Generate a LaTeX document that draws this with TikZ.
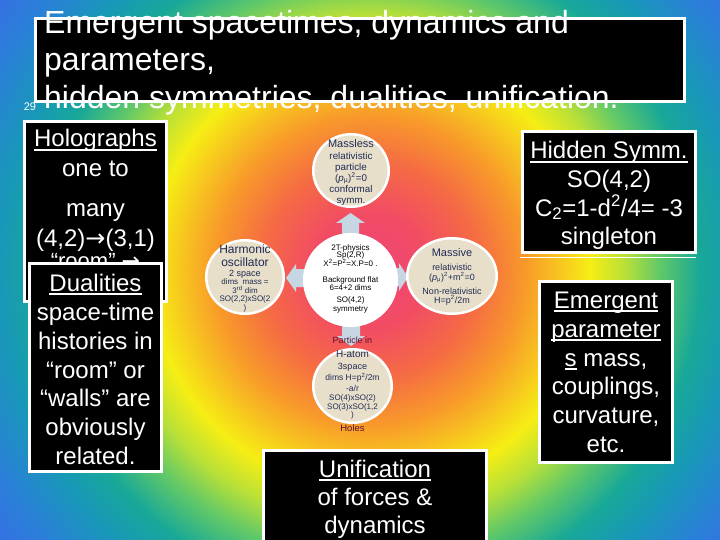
\documentclass[tikz,border=0pt]{standalone}
\usepackage{fontspec}
\setmainfont{Liberation Sans}
\newfontfamily\dejavu{DejaVu Sans}
\usetikzlibrary{shapes.geometric}
\definecolor{beige}{HTML}{E8DFCA}
\definecolor{navy}{HTML}{1E2B55}
\definecolor{maroonx}{HTML}{5A1633}
\definecolor{arrowblue}{HTML}{C6D6E2}
\definecolor{sg0}{HTML}{F04478}
\definecolor{sg1}{HTML}{F24C64}
\definecolor{sg2}{HTML}{F56A44}
\definecolor{sg3}{HTML}{F89A2A}
\definecolor{sg4}{HTML}{F6EE14}
\definecolor{sg5}{HTML}{B8E038}
\definecolor{sg6}{HTML}{60C868}
\definecolor{sg7}{HTML}{18A898}
\definecolor{sg8}{HTML}{1898B8}
\definecolor{sg9}{HTML}{2A80D8}
\definecolor{sg10}{HTML}{3A68E8}
\pgfdeclareradialshading{bgshade}{\pgfpoint{0bp}{0bp}}{%
color(0bp)=(sg0); color(3bp)=(sg1); color(5.6bp)=(sg2); color(8.1bp)=(sg3);
color(11.46bp)=(sg4); color(13.28bp)=(sg5); color(15.1bp)=(sg6); color(17.19bp)=(sg7);
color(19.27bp)=(sg8); color(21.875bp)=(sg9); color(25bp)=(sg10); color(50bp)=(sg10)}
\newcommand\myul[1]{\setbox0\hbox{#1}\rlap{\rule[-4.2pt]{\wd0}{1.8pt}}\box0\relax}
\newcommand\rarr{{\dejavu →}}
\tikzset{
  bbox/.style={draw=white, line width=3pt, fill=black, inner sep=0pt},
  ttext/.style={text=white, font=\fontsize{32}{38}\selectfont, inner sep=0pt, anchor=base west},
  btext/.style={text=white, font=\fontsize{24}{29}\selectfont, inner sep=0pt, anchor=base},
  circ/.style={ellipse, fill=beige, draw=white, line width=2.5pt, inner sep=0pt},
  ctext/.style={text=navy, inner sep=0pt, anchor=base},
  ktext/.style={text=black, inner sep=0pt, anchor=base, font=\fontsize{8}{8.5}\selectfont},
  mtext/.style={text=maroonx, inner sep=0pt, anchor=base},
  blockarrow/.style={fill=arrowblue, draw=none}
}
\begin{document}
\begin{tikzpicture}[x=1pt, y=-1pt]
\useasboundingbox (0,0) rectangle (720,540);
\clip (0,0) rectangle (720,540);
% background
\shade[shading=bgshade] (-110,-210) rectangle (850,750);

% title
\node[bbox, minimum width=649pt, minimum height=83pt] (title) at (360,60) {};
\node[ttext] (t1) at (44,34) {Emergent spacetimes, dynamics and};
\node[ttext] (t2) at (44,71) {parameters,};
\node[ttext] (t3) at (44,109) {hidden symmetries, dualities, unification.};
\node[text=white, font=\fontsize{11}{12}\selectfont, inner sep=0pt] (num) at (30,107) {29};

% Holographs box
\node[bbox, minimum width=142pt, minimum height=180pt] (holo) at (95.5,211.5) {};
\node[btext] (h1) at (95.5,147) {\myul{Holographs}};
\node[btext] (h2) at (95.5,177) {one to};
\node[btext] (h3) at (95.5,216) {many};
\node[btext] (h4) at (95.5,246) {(4,2)\rarr(3,1)};
\node[btext, font=\fontsize{22}{26}\selectfont] (h5) at (95.5,268) {“room” \rarr};

% Dualities box
\node[bbox, minimum width=132pt, minimum height=208pt] (dual) at (95.5,367.5) {};
\node[btext] (d1) at (95.5,291) {\myul{Dualities}};
\node[btext] (d2) at (95.5,320) {space-time};
\node[btext] (d3) at (95.5,349) {histories in};
\node[btext] (d4) at (95.5,378) {“room” or};
\node[btext] (d5) at (95.5,406) {“walls” are};
\node[btext] (d6) at (95.5,435) {obviously};
\node[btext] (d7) at (95.5,464) {related.};

% Hidden Symm box
\node[bbox, minimum width=173pt, minimum height=121pt] (hid) at (609,192) {};
\draw[white, line width=1pt] (hid.south west) ++(-1.5,3.5) -- ++(176,0);
\node[btext] (s1) at (609,159) {\myul{Hidden Symm.}};
\node[btext] (s2) at (609,188) {SO(4,2)};
\node[btext] (s3) at (609,216) {C\textsubscript{2}=1-d\textsuperscript{2}/4= -3};
\node[btext] (s4) at (609,244) {singleton};

% Emergent parameters box
\node[bbox, minimum width=133pt, minimum height=181pt] (emer) at (606,372) {};
\node[btext] (e1) at (606,308) {\myul{Emergent}};
\node[btext] (e2) at (606,337) {\myul{parameter}};
\node[btext] (e3) at (606,366) {\myul{s} mass,};
\node[btext] (e4) at (606,394) {couplings,};
\node[btext] (e5) at (606,423) {curvature,};
\node[btext] (e6) at (606,452) {etc.};

% Unification box
\node[bbox, minimum width=223pt, minimum height=100pt] (unif) at (375,500.5) {};
\node[btext] (u1) at (375,477) {\myul{Unification}};
\node[btext] (u2) at (375,505) {of forces \&};
\node[btext] (u3) at (375,533) {dynamics};

% block arrows
\fill[blockarrow] (350.5,213) -- (365,223) -- (359,223) -- (359,240) -- (342,240) -- (342,223) -- (336,223) -- cycle;
\fill[blockarrow] (351,346) -- (365,336) -- (360,336) -- (360,320) -- (342,320) -- (342,336) -- (337,336) -- cycle;
\fill[blockarrow] (286,278) -- (296,264) -- (296,269) -- (308,269) -- (308,287) -- (296,287) -- (296,292) -- cycle;
\fill[blockarrow] (408,277) -- (399,263) -- (399,268) -- (392,268) -- (392,286) -- (399,286) -- (399,291) -- cycle;

% circles
\node[circ, fill=white, minimum width=92.5pt, minimum height=91.5pt] (core) at (350.5,280) {};
\node[circ, minimum width=75.5pt, minimum height=72.5pt] (top) at (351,170.5) {};
\node[circ, minimum width=77.5pt, minimum height=73.5pt] (left) at (245,277) {};
\node[circ, minimum width=89.5pt, minimum height=75.5pt] (right) at (452,276) {};
\node[circ, minimum width=78.5pt, minimum height=73.5pt] (bot) at (352.5,386) {};

% top circle text
\node[ctext, font=\fontsize{11}{12}\selectfont] (tp1) at (351,148) {Massless};
\node[ctext, font=\fontsize{9.8}{10}\selectfont] (tp2) at (351,159.5) {relativistic};
\node[ctext, font=\fontsize{9.8}{10}\selectfont] (tp3) at (351,170.5) {particle};
\node[ctext, font=\fontsize{9.8}{10}\selectfont] (tp4) at (351,181.5) {(\textit{p}\textsubscript{μ})\textsuperscript{2}=0};
\node[ctext, font=\fontsize{9.8}{10}\selectfont] (tp5) at (351,192.5) {conformal};
\node[ctext, font=\fontsize{9.8}{10}\selectfont] (tp6) at (351,203.5) {symm.};

% center circle text
\node[ktext] (c1) at (350.5,250.5) {2T-physics};
\node[ktext] (c2) at (350.5,258) {Sp(2,R)};
\node[ktext] (c3) at (350.5,266) {X\textsuperscript{2}=P\textsuperscript{2}=X.P=0 .};
\node[ktext] (c4) at (350.5,282) {Background flat};
\node[ktext] (c5) at (350.5,290.5) {6=4+2 dims};
\node[ktext] (c6) at (350.5,302.5) {SO(4,2)};
\node[ktext] (c7) at (350.5,311) {symmetry};

% left circle text
\node[ctext, font=\fontsize{12}{13}\selectfont] (l1) at (245,253) {Harmonic};
\node[ctext, font=\fontsize{12}{13}\selectfont] (l2) at (245,266) {oscillator};
\node[ctext, font=\fontsize{9}{10}\selectfont] (l3) at (245,276) {2 space};
\node[ctext, font=\fontsize{8}{9}\selectfont] (l4) at (245,284.5) {dims\ \ mass =};
\node[ctext, font=\fontsize{8}{9}\selectfont] (l5) at (245,293) {3\textsuperscript{rd} dim};
\node[ctext, font=\fontsize{8}{9}\selectfont] (l6) at (245,301.5) {SO(2,2)xSO(2};
\node[ctext, font=\fontsize{8}{9}\selectfont] (l7) at (245,310) {)};

% right circle text
\node[ctext, font=\fontsize{11}{12}\selectfont] (r1) at (452,256) {Massive};
\node[ctext, font=\fontsize{9}{10}\selectfont] (r2) at (452,270) {relativistic};
\node[ctext, font=\fontsize{9}{10}\selectfont] (r3) at (452,280) {(\textit{p}\textsubscript{μ})\textsuperscript{2}+m\textsuperscript{2}=0};
\node[ctext, font=\fontsize{9}{10}\selectfont] (r4) at (452,294) {Non-relativistic};
\node[ctext, font=\fontsize{9}{10}\selectfont] (r5) at (452,303) {H=p\textsuperscript{2}/2m};

% bottom circle text
\node[mtext, font=\fontsize{9}{10}\selectfont] (p1) at (352.5,343) {Particle in};
\node[ctext, font=\fontsize{10}{11}\selectfont] (b1) at (352.5,357.5) {H-atom};
\node[ctext, font=\fontsize{9}{10}\selectfont] (b2) at (352.5,369.5) {3space};
\node[ctext, font=\fontsize{8.5}{9}\selectfont] (b3) at (352.5,380) {dims H=p\textsuperscript{2}/2m};
\node[ctext, font=\fontsize{8.5}{9}\selectfont] (b4) at (352.5,391) {-a/r};
\node[ctext, font=\fontsize{8}{9}\selectfont] (b5) at (352.5,400.5) {SO(4)xSO(2)};
\node[ctext, font=\fontsize{8}{9}\selectfont] (b6) at (352.5,409) {SO(3)xSO(1,2};
\node[ctext, font=\fontsize{8}{9}\selectfont] (b7) at (352.5,417.5) {)};
\node[mtext, font=\fontsize{9.5}{10}\selectfont] (p2) at (352.5,431.5) {Holes};
\end{tikzpicture}
\end{document}
